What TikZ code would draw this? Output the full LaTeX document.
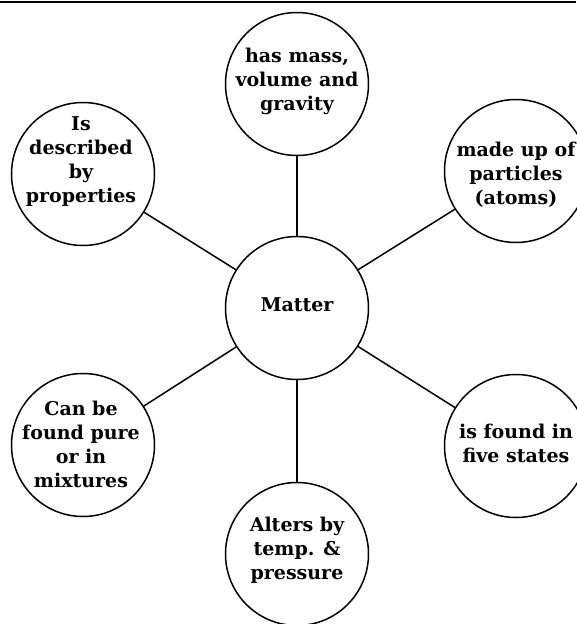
\documentclass[tikz,border=0pt]{standalone}
\usepackage{fontspec}
\setmainfont{DejaVu Serif}
\begin{document}
\begin{tikzpicture}[x=1pt,y=-1pt,
  bubble/.style={circle,draw,line width=1.5pt,minimum size=143pt,inner sep=0pt},
  txt/.style={align=center,font=\fontsize{19}{24}\selectfont\bfseries,inner sep=0pt},
  spoke/.style={line width=1.5pt}]
  \useasboundingbox (0,0) rectangle (576,624);
  % top rule
  \draw[line width=2pt] (0,2) -- (576,2);

  % circles
  \node[bubble] (mat) at (297,308) {};
  \node[bubble] (top) at (297,84) {};
  \node[bubble] (tr)  at (516,171) {};
  \node[bubble] (tl)  at (83,174) {};
  \node[bubble] (bl)  at (83,445) {};
  \node[bubble] (br)  at (516,446) {};
  \node[bubble] (bot) at (297,554) {};

  % labels
  \node[txt] (tmat) at (297,305) {Matter};
  \node[txt] (ttop) at (297,81) {has mass,\\volume and\\gravity};
  \node[txt] (ttr)  at (516,175) {made up of\\particles\\(atoms)};
  \node[txt] (ttl)  at (81,162) {Is\\described\\by\\properties};
  \node[txt] (tbl)  at (81,444) {Can be\\found pure\\or in\\mixtures};
  \node[txt] (tbr)  at (516,443) {is found in\\five states};
  \node[txt] (tbot) at (297,550) {Alters by\\temp. \&\\pressure};

  % spokes
  \draw[spoke] (mat) -- (top);
  \draw[spoke] (mat) -- (tr);
  \draw[spoke] (mat) -- (tl);
  \draw[spoke] (mat) -- (bl);
  \draw[spoke] (mat) -- (br);
  \draw[spoke] (mat) -- (bot);
\end{tikzpicture}
\end{document}
